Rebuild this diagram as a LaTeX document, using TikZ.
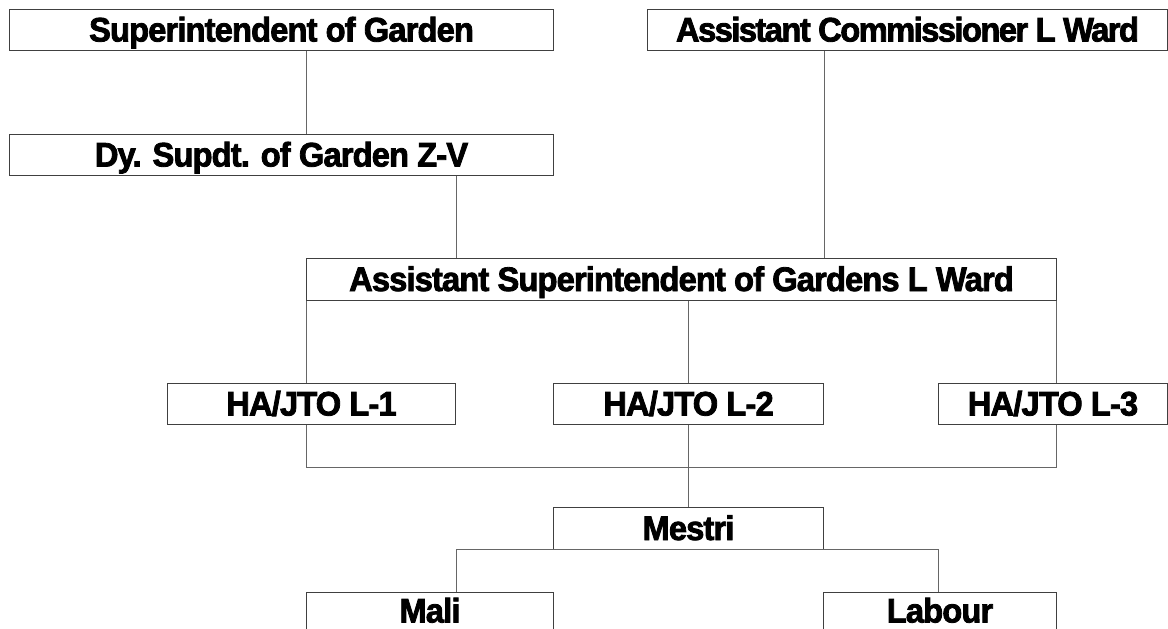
\documentclass[tikz,border=0pt]{standalone}
\usepackage{fontspec}
\setmainfont{Liberation Sans}
\newfontfamily\hdfont{Liberation Sans}[UprightFont=*-Bold, FakeBold=2.4, FakeStretch=0.96, LetterSpace=-2.5]
\newfontfamily\hdtightfont{Liberation Sans}[UprightFont=*-Bold, FakeBold=2.4, FakeStretch=0.96, LetterSpace=-4.5]
\begin{document}
\begin{tikzpicture}[x=1pt,y=-1pt,
  orgbox/.style={draw=black!75, line width=1pt, fill=white, inner sep=0pt,
    anchor=north west, minimum height=41pt, text height=23pt, text depth=0pt,
    font=\hdfont\fontsize{34}{34}\selectfont},
  conn/.style={draw=black!60, line width=0.9pt}]
\useasboundingbox (0,0) rectangle (1168,629);
\begin{scope}
\clip (0,0) rectangle (1168,629);
\coordinate (j1) at (306,467);
\coordinate (j3) at (1056,467);
\coordinate (m1) at (456,549);
\coordinate (m3) at (938,549);

\node[orgbox, minimum width=544pt] (supt) at (9,9) {Superintendent of Garden};
\node[orgbox, minimum width=520pt, font=\hdtightfont\fontsize{34}{34}\selectfont] (ac) at (647,9) {Assistant Commissioner L Ward};
\node[orgbox, minimum width=544pt] (dy) at (9,134) {Dy. Supdt. of Garden Z-V};
\node[orgbox, minimum width=750pt, minimum height=42pt] (asg) at (306,258) {Assistant Superintendent of Gardens L Ward};
\node[orgbox, minimum width=288pt] (h1) at (167,383) {HA/JTO L-1};
\node[orgbox, minimum width=270pt] (h2) at (553,383) {HA/JTO L-2};
\node[orgbox, minimum width=229pt] (h3) at (938,383) {HA/JTO L-3};
\node[orgbox, minimum width=270pt, minimum height=42pt] (mestri) at (553,507) {Mestri};
\node[orgbox, minimum width=247pt, text height=19pt] (mali) at (306,592) {Mali};
\node[orgbox, minimum width=233pt, text height=19pt] (labour) at (823,592) {Labour};

\draw[conn] (supt.south -| j1) -- (dy.north -| j1);
\draw[conn] (dy.south -| m1) -- (asg.north -| m1);
\draw[conn] (ac.south -| 824,0) -- (asg.north -| 824,0);
\draw[conn] (asg.south -| j1) -- (h1.north -| j1);
\draw[conn] (asg.south -| h2.north) -- (h2.north);
\draw[conn] (asg.south -| j3) -- (h3.north -| j3);
\draw[conn] (h1.south -| j1) -- (j1) -- (j3) -- (h3.south -| j3);
\draw[conn] (h2.south) -- (mestri.north);
\draw[conn] (mali.north -| m1) -- (m1) -- (m3) -- (labour.north -| m3);
\end{scope}
\end{tikzpicture}
\end{document}
